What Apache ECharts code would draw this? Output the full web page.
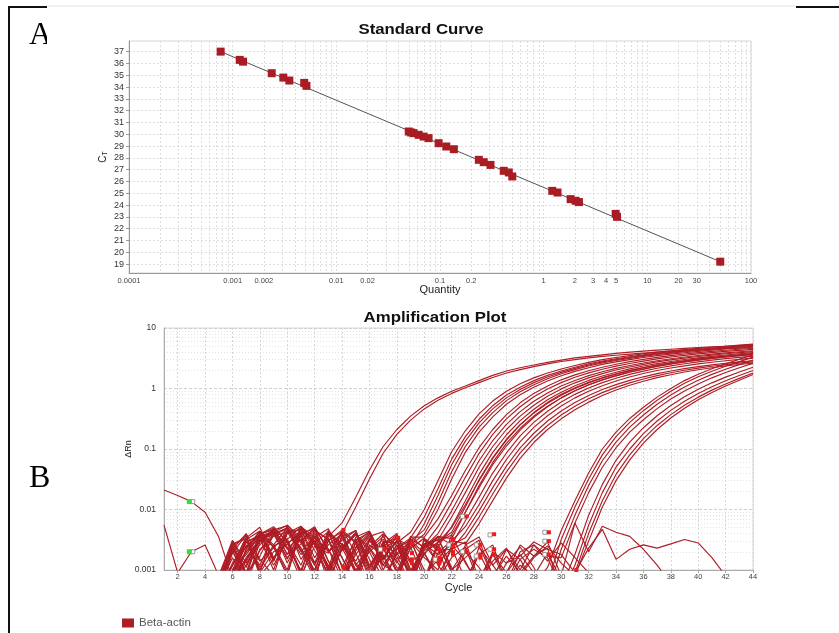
<!DOCTYPE html>
<html>
<head>
<meta charset="utf-8">
<script src="https://cdn.jsdelivr.net/npm/echarts@6/dist/echarts.min.js"></script>
<style>
  html, body { margin: 0; padding: 0; background: #fff; }
  #chart { width: 839px; height: 633px; }
</style>
</head>
<body>
<div id="chart"></div>
<script>
// ---------- A: standard curve (quantity vs CT) ----------
const stdQuantity = [0.000766, 0.00117, 0.00126, 0.00238, 0.00308, 0.00352, 0.00490, 0.00515,
  0.0499, 0.0526, 0.0556, 0.0622, 0.0695, 0.0776, 0.097, 0.115, 0.136,
  0.237, 0.264, 0.307, 0.412, 0.461, 0.498, 1.21, 1.36, 1.82, 2.03, 2.19, 4.95, 5.10, 50.5];
const stdCt = [37.0, 36.3, 36.15, 35.17, 34.8, 34.55, 34.35, 34.1,
  30.23, 30.15, 30.09, 29.95, 29.8, 29.67, 29.24, 28.96, 28.73,
  27.83, 27.63, 27.4, 26.9, 26.76, 26.42, 25.2, 25.06, 24.5, 24.36, 24.25, 23.25, 23.0, 19.2];
// regression line end points
const fitQuantity = [0.000766, 50.5];
const fitCt = [37.0, 19.2];

const quantityTickLabels = [0.0001, 0.001, 0.002, 0.01, 0.02, 0.1, 0.2, 1, 2, 3, 4, 5, 10, 20, 30, 100];
const quantityDecades = [0.0001, 0.001, 0.01, 0.1, 1, 10];
const decadeSteps = [1, 2, 3, 4, 5, 6, 7, 8, 9];
const ctTickLabels = [19, 20, 21, 22, 23, 24, 25, 26, 27, 28, 29, 30, 31, 32, 33, 34, 35, 36, 37];

// ---------- B: amplification plot (ΔRn stored in thousandths) ----------
const cycleTickLabels = [2, 4, 6, 8, 10, 12, 14, 16, 18, 20, 22, 24, 26, 28, 30, 32, 34, 36, 38, 40, 42, 44];
const rnTickLabels = [0.001, 0.01, 0.1, 1, 10];
const rnDecades = [0.001, 0.01, 0.1, 1];

// curves listed from cycle 5 to 44
const curvesEarly = [
  [0.3,0.8,2.6,1.2,3.9,5.0,2.1,0.7,3.6, 6,16,45,110,210,350,520,700,900,1100, 1350,1650,1950,2200,2450,2700,2950,3200,3400,3600, 3800,4000,4150,4300,4450,4600,4750,4900,5000,5100, 5200],
  [0.5,1.6,0.6,2.9,4.4,1.3,3.7,5.2,2.0, 4,11,32,85,175,300,460,640,830,1030, 1250,1520,1800,2050,2300,2550,2800,3000,3200,3400, 3550,3700,3850,4000,4150,4300,4400,4500,4600,4700, 4800]
];
const curvesMid1 = [
  [0.4,1.9,3.8,0.9,4.6,5.4,1.5,3.1,0.6,2.4,4.2,1.1,2.9, 2.8,4.2,10,30,90,200,380,620,900,1200, 1500,1800,2100,2400,2700,3000,3250,3500,3750,4000, 4200,4400,4600,4800,5000,5200,5400],
  [0.8,0.5,2.2,4.3,2.4,0.8,4.9,3.0,1.2,0.5,2.1,3.9,1.4, 0.7,3.4,7.5,22,68,160,310,520,780,1050, 1350,1650,1950,2250,2550,2850,3100,3350,3600,3850, 4050,4250,4450,4650,4850,5050,5200],
  [0.3,0.6,1.4,3.1,4.7,2.2,3.9,0.7,4.4,2.6,1.3,0.6,2.8, 3.3,2.4,5.8,17,55,135,270,460,700,960, 1250,1550,1850,2150,2450,2750,3000,3250,3500,3750, 3950,4150,4350,4550,4750,4950,5100],
  [0.6,2.6,0.8,3.7,1.5,4.1,5.3,2.8,1.0,3.6,0.8,2.3,1.2, 0.9,3.0,4.6,13,42,110,230,400,630,880, 1150,1450,1750,2050,2350,2650,2900,3150,3400,3650, 3850,4050,4250,4450,4650,4800,5000],
  [0.2,0.7,3.0,1.1,2.5,3.3,0.9,4.8,2.2,0.9,3.5,4.4,1.6, 1.8,2.6,3.9,10,32,88,190,340,550,790, 1050,1330,1620,1920,2200,2500,2750,3000,3250,3500, 3700,3900,4100,4300,4500,4650,4800]
];
const curvesMid2 = [
  [0.4,1.2,3.4,5.1,1.6,2.7,4.3,0.8,3.0,4.6,1.9,0.6,2.8,1.3,3.5, 3.5,7,17,44,105,210,370,580,830,1100, 1390,1680,1970,2250,2520,2780,3030,3270,3500,3720, 3920,4110,4290,4460,4620],
  [0.7,3.0,1.1,3.9,5.2,2.8,0.9,4.1,1.4,0.5,3.1,4.2,1.0,2.6,0.8, 2.6,5.2,13,34,84,175,315,500,730,980, 1250,1530,1810,2080,2340,2590,2840,3080,3310,3530, 3730,3920,4100,4270,4430],
  [0.3,0.9,2.0,3.5,4.2,5.5,3.4,1.2,0.6,2.3,4.0,1.5,0.5,2.2,3.2, 2.4,4.0,9.5,25,64,138,255,415,615,845, 1100,1360,1630,1890,2150,2400,2640,2880,3100,3310, 3510,3700,3880,4050,4210],
  [0.5,2.2,4.0,1.5,0.8,4.5,3.0,5.0,2.2,0.7,1.8,3.6,4.3,1.9,0.9, 2.7,3.1,7.5,19,50,110,210,350,530,745, 985,1240,1500,1760,2020,2270,2510,2750,2970,3180, 3380,3570,3750,3920,4080],
  [0.4,1.0,3.2,4.4,2.6,1.0,5.1,2.7,0.8,3.9,1.2,2.4,4.0,0.9,2.3, 3.3,2.4,5.2,14,38,88,172,295,455,650, 870,1110,1360,1610,1860,2110,2350,2580,2800,3010, 3210,3400,3580,3750,3910],
  [0.8,2.8,0.9,1.7,4.7,2.3,0.7,3.5,4.8,1.6,0.6,3.3,1.5,3.8,1.4, 1.9,2.9,4.2,11,31,72,145,252,395,570, 775,1000,1240,1480,1720,1960,2200,2430,2650,2860, 3060,3250,3430,3600,3760],
  [0.2,0.6,1.2,3.2,4.0,4.9,2.3,1.0,4.1,2.2,3.9,1.0,2.5,0.9,3.6, 2.3,3.6,3.3,9,25,60,124,220,350,510, 700,915,1145,1380,1620,1860,2090,2320,2540,2750, 2950,3140,3320,3490,3650]
];
const curvesMid3 = [
  [0.4,1.3,2.9,3.6,4.4,1.8,3.2,0.9,4.3,2.6,1.0,0.6,2.4,3.8,1.4,0.7, 2.9,5.0,12,30,70,140,250,400,590,800, 1030,1270,1510,1750,1990,2220,2450,2670,2880,3080, 3270,3450,3620,3780],
  [0.6,2.4,0.8,2.1,3.8,4.8,2.0,3.7,1.1,2.1,3.9,2.3,0.9,0.7,3.0,1.6, 1.0,3.8,9.0,23,55,112,205,335,500,700, 920,1150,1390,1630,1870,2100,2330,2550,2760,2960, 3150,3330,3500,3660],
  [0.3,0.8,3.4,1.4,2.3,4.1,4.7,1.3,2.6,4.0,0.9,3.1,2.2,1.0,0.6,2.7, 1.8,2.6,6.5,16,40,86,165,275,420,600, 800,1020,1250,1480,1710,1940,2160,2370,2570,2760, 2940,3110,3270,3420],
  [0.5,2.0,0.9,4.2,1.6,3.0,1.2,4.5,3.2,0.8,2.4,4.1,1.2,2.3,3.4,0.8, 1.5,3.0,5.2,12,30,67,132,228,355,515, 700,900,1110,1330,1550,1770,1980,2180,2370,2550, 2720,2880,3030,3170],
  [0.8,3.1,1.3,2.6,4.9,3.0,0.8,2.5,1.9,4.3,2.8,0.7,3.0,1.1,0.8,3.1, 2.1,2.2,4.2,9.5,23,52,104,182,290,425, 585,765,960,1160,1360,1560,1760,1950,2130,2300, 2460,2610,2750,2880],
  [0.4,1.0,1.8,3.8,2.4,0.9,4.2,3.5,1.0,2.7,1.4,3.3,1.6,3.1,0.9,1.8, 3.6,2.6,3.4,7.5,18,42,86,152,245,365, 510,675,855,1045,1240,1435,1630,1820,2000,2170, 2330,2480,2620,2750],
  [0.5,2.5,3.7,0.8,1.5,4.6,2.8,1.2,3.9,1.6,0.6,2.2,3.6,1.5,2.4,0.7, 1.9,3.1,2.7,5.8,14,33,70,128,210,315, 445,595,765,945,1130,1320,1510,1690,1870,2040, 2200,2350,2490,2620]
];
const curvesLate = [
  [0.3,0.9,2.9,3.8,1.4,4.5,2.3,0.8,3.1,4.3,1.2,0.6,2.1,3.4,1.0,2.2,3.3,1.1,0.5,1.9,0.7,2.2, 1.5,0.6,1.1,4.5,14,40,100,190,320,490,720,1000,1350,1720,2120,2550,3050,3600],
  [0.7,2.3,0.9,3.2,4.2,1.5,4.7,2.6,0.8,2.4,3.9,2.0,0.7,1.9,3.0,1.0,0.6,2.6,1.4,0.5,1.8,0.9, 1.8,0.9,0.6,3.2,11,32,80,160,275,430,640,900,1220,1560,1930,2330,2780,3300],
  [0.4,1.2,3.5,1.0,2.6,5.0,3.0,1.3,4.5,2.3,0.9,3.0,1.8,0.7,2.3,3.4,1.2,0.6,2.0,1.1,0.5,1.3, 2.4,1.1,0.4,2.2,8,25,64,130,230,365,550,780,1060,1370,1710,2080,2480,2950],
  [0.5,0.7,2.0,4.0,4.6,2.4,1.0,3.6,2.0,3.1,4.5,1.1,2.6,1.4,0.6,2.1,2.7,0.9,0.5,2.4,1.2,0.6, 2.0,2.6,1.7,1.6,6,19,50,105,190,305,465,670,910,1190,1500,1840,2200,2600],
  [0.2,0.6,1.6,3.3,1.2,3.2,5.2,2.1,0.9,2.8,1.0,2.0,3.2,1.7,0.6,1.9,0.8,2.2,2.9,0.7,1.9,0.6, 1.5,2.2,1.6,0.5,1.8,8,26,65,130,225,355,525,730,970,1240,1540,1870,2250],
  [0.5,2.1,0.6,2.2,3.6,4.3,1.8,2.8,4.3,1.1,3.3,0.9,1.6,2.9,1.3,0.6,2.5,1.0,1.6,2.5,0.8,1.7, 0.9,1.7,2.3,0.4,1.2,5.5,19,50,100,180,290,435,615,830,1070,1340,1640,1980],
  [0.6,2.7,3.3,0.9,2.0,2.7,4.1,4.8,1.4,0.7,2.3,3.6,1.2,2.6,0.8,2.7,1.3,2.3,0.7,1.8,2.6,0.6, 1.2,0.8,1.9,0.7,0.9,4,14,38,80,148,245,370,530,720,940,1190,1470,1800],
  [0.3,0.8,1.5,3.1,3.9,1.6,2.7,4.6,3.2,1.2,0.8,2.6,1.7,0.6,3.1,1.9,0.7,1.6,2.4,0.6,1.4,2.3, 0.8,1.6,2.5,1.3,0.8,3.0,11,30,66,125,210,325,470,650,860,1100,1370,1700]
];
// wells without amplification, listed from cycle 1 to 44
const curvesFlat = [
  [21,17,13.5,9,3.5, 0.7,1.5,3.3,1.0,4.0,4.8,1.6,3.4,0.8,2.8,4.3,1.5,3.1,0.7,2.4,3.6,1.0,2.2,3.1,0.8, 0.9,2.6,1.7,2.9,0.8,6.0,2.0,5.3,4.2,3.6,2.2,1.2,0.6,0.4,0.4,0.3,0.3,0.3,0.3],
  [5.5,0.9,2.0,2.6,0.8, 0.5,2.3,4.4,1.4,5.5,3.0,4.9,0.9,3.5,4.5,1.2,2.7,4.0,1.0,0.6,2.9,3.8,1.3,0.6,2.0, 1.3,1.7,2.9,2.2,1.8,0.9,2.3,4.7,1.5,2.2,2.6,2.3,2.7,3.2,2.8,1.6,0.8,0.6,0.5],
  [0.3,0.3,0.4,0.5,0.6, 1.2,2.4,3.8,4.9,1.8,5.2,3.5,1.1,4.6,2.9,0.8,3.9,2.5,0.7,3.3,2.2,0.6,2.6,3.5,1.2, 2.2,1.0,2.6,1.4,2.8,1.6,0.9,0.7,0.6,0.5,0.5,0.4,0.4,0.4,0.4,0.4,0.4,0.4,0.4]
];
const ampFirstCycle = 5;
const flatFirstCycle = 1;

// threshold-cycle markers (red), their outlined partners (grey) and baseline-start markers (green)
const ctMarkCycle = [14.1, 14.1, 17.1, 18.1, 19.1, 19.1, 19.1, 19.1, 21.1, 21.1, 21.1, 21.1, 22.1, 22.1, 22.1, 22.1, 23.1, 23.1, 24.1, 24.1, 24.1, 25.1, 25.1, 25.1, 29.1, 29.1, 29.1, 31.1];
const ctMarkRn = [4.6, 1.1, 2.2, 3.4, 2.8, 1.9, 1.5, 1.3, 2.2, 1.6, 1.4, 1.3, 3.2, 2.5, 2.0, 1.8, 7.7, 2.0, 2.6, 1.8, 1.6, 3.9, 2.2, 1.8, 4.2, 3.0, 1.8, 1.0];
const baseMarkCycle = [16.8, 20.8, 21.8, 22.8, 22.8, 23.8, 23.8, 24.8, 24.8, 28.8, 28.8, 28.8, 3.1, 3.1];
const baseMarkRn = [2.2, 1.5, 2.6, 7.7, 2.0, 2.6, 1.7, 3.8, 2.2, 4.2, 3.0, 1.8, 13.5, 2.0];
const startMarkCycle = [2.85, 2.85];
const startMarkRn = [13.5, 2.0];

// ---------- helpers ----------
const log10 = Math.log10;
const fromLog = v => String(Number(Math.pow(10, v).toPrecision(6)));
const quantityGrid = quantityDecades.flatMap(d => decadeSteps.map(k => log10(k * d))).concat([log10(100)]);
const rnMinorGrid = rnDecades.flatMap(d => decadeSteps.slice(1).map(k => log10(k * d)));
const milliToLog = v => log10(v / 1000);

const curveColor = '#AE1C25';
const font = '"Liberation Sans", Arial, sans-serif';

function ampSeries(values, first) {
  return {
    type: 'line', name: 'Beta-actin', xAxisIndex: 1, yAxisIndex: 1,
    data: values.map((v, i) => [first + i, milliToLog(v)]),
    symbol: 'none', silent: true, clip: true, z: 2,
    lineStyle: { color: curveColor, width: 1.15 },
    itemStyle: { color: curveColor }
  };
}

const series = [];
series.push({
  type: 'line', name: 'fit', xAxisIndex: 0, yAxisIndex: 0,
  data: fitQuantity.map((q, i) => [log10(q), fitCt[i]]),
  symbol: 'none', silent: true, z: 2,
  lineStyle: { color: '#555', width: 1 }
});
series.push({
  type: 'scatter', name: 'standards', xAxisIndex: 0, yAxisIndex: 0,
  data: stdQuantity.map((q, i) => [log10(q), stdCt[i]]),
  symbol: 'rect', symbolSize: 8, z: 3, silent: true,
  itemStyle: { color: '#A91C23', opacity: 1 }
});
[curvesEarly, curvesMid1, curvesMid2, curvesMid3, curvesLate].forEach(group =>
  group.forEach(c => series.push(ampSeries(c, ampFirstCycle))));
curvesFlat.forEach(c => series.push(ampSeries(c, flatFirstCycle)));
series.push({
  type: 'scatter', name: 'base marks', xAxisIndex: 1, yAxisIndex: 1,
  data: baseMarkCycle.map((c, i) => [c, milliToLog(baseMarkRn[i])]),
  symbol: 'rect', symbolSize: 4, z: 4, silent: true,
  itemStyle: { color: '#fff', borderColor: '#999', borderWidth: 1, opacity: 1 }
});
series.push({
  type: 'scatter', name: 'ct marks', xAxisIndex: 1, yAxisIndex: 1,
  data: ctMarkCycle.map((c, i) => [c, milliToLog(ctMarkRn[i])]),
  symbol: 'rect', symbolSize: 4, z: 5, silent: true,
  itemStyle: { color: '#F01A1A', opacity: 1 }
});
series.push({
  type: 'scatter', name: 'start marks', xAxisIndex: 1, yAxisIndex: 1,
  data: startMarkCycle.map((c, i) => [c, milliToLog(startMarkRn[i])]),
  symbol: 'rect', symbolSize: 5, z: 5, silent: true,
  itemStyle: { color: '#3ED63E', opacity: 1 }
});

const chart = echarts.init(document.getElementById('chart'), null, { renderer: 'canvas' });
chart.setOption({
  animation: false,
  backgroundColor: '#fff',
  textStyle: { fontFamily: font },
  grid: [
    { left: 129, top: 41, width: 622, height: 232, show: true, borderColor: '#d4d4d4', borderWidth: 1, backgroundColor: '#fff', outerBoundsMode: 'none' },
    { left: 164, top: 328, width: 589, height: 242, show: true, borderColor: '#d4d4d4', borderWidth: 1, backgroundColor: '#fff', outerBoundsMode: 'none' }
  ],
  xAxis: [
    {
      type: 'value', gridIndex: 0, min: -4, max: 2,
      name: 'Quantity', nameLocation: 'middle', nameGap: 11, nameMoveOverlap: false,
      nameTextStyle: { fontSize: 11, color: '#222' },
      axisLine: { show: true, onZero: false, lineStyle: { color: '#999' } },
      axisTick: { show: false, customValues: quantityGrid },
      axisLabel: { customValues: quantityTickLabels.map(log10), formatter: fromLog, fontSize: 7.5, color: '#444', margin: 4 },
      splitLine: { show: true, lineStyle: { color: '#dedede', type: [2, 2], width: 1 } }
    },
    {
      type: 'value', gridIndex: 1, min: 1, max: 44,
      name: 'Cycle', nameLocation: 'middle', nameGap: 12, nameMoveOverlap: false,
      nameTextStyle: { fontSize: 11, color: '#222' },
      axisLine: { show: true, onZero: false, lineStyle: { color: '#aaa' } },
      axisTick: { show: true, customValues: cycleTickLabels, length: 3, lineStyle: { color: '#aaa' } },
      axisLabel: { customValues: cycleTickLabels, fontSize: 7.5, color: '#444', margin: 3 },
      splitLine: { show: true, lineStyle: { color: '#d6d6d6', type: [2, 2], width: 1 } }
    }
  ],
  yAxis: [
    {
      type: 'value', gridIndex: 0, min: 18.24, max: 37.9,
      name: '{c|C}{t|T}', nameLocation: 'middle', nameGap: 20, nameRotate: 90, nameMoveOverlap: false,
      nameTextStyle: { color: '#222', rich: { c: { fontSize: 10, color: '#222' }, t: { fontSize: 7, color: '#222', padding: [4, 0, 0, 0] } } },
      axisLine: { show: true, onZero: false, lineStyle: { color: '#999' } },
      axisTick: { show: true, customValues: ctTickLabels, length: 3, lineStyle: { color: '#999' } },
      axisLabel: { customValues: ctTickLabels, fontSize: 9, color: '#333', margin: 5 },
      splitLine: { show: true, lineStyle: { color: '#dedede', type: [2, 2], width: 1 } }
    },
    {
      type: 'value', gridIndex: 1, min: -3, max: 1,
      name: 'ΔRn', nameLocation: 'middle', nameGap: 31, nameRotate: 90, nameMoveOverlap: false,
      nameTextStyle: { fontSize: 9, color: '#222' },
      axisLine: { show: true, onZero: false, lineStyle: { color: '#aaa' } },
      axisTick: { show: false, customValues: rnTickLabels.map(log10) },
      axisLabel: { customValues: rnTickLabels.map(log10), formatter: fromLog, fontSize: 8.5, color: '#333', margin: 8 },
      splitLine: { show: true, lineStyle: { color: '#d0d0d0', type: [3, 2], width: 1 } }
    },
    {
      type: 'value', gridIndex: 1, min: -3, max: 1, position: 'right',
      axisLine: { show: false }, axisLabel: { show: false },
      axisTick: { show: false, customValues: rnMinorGrid },
      splitLine: { show: true, lineStyle: { color: '#e2e2e2', type: [1, 2], width: 1 } }
    }
  ],
  legend: {
    data: ['Beta-actin'], left: 117, top: 612, selectedMode: false,
    icon: 'rect', itemWidth: 12, itemHeight: 9, itemGap: 4,
    textStyle: { fontSize: 11.5, color: '#555', fontFamily: font }
  },
  graphic: [
    { type: 'line', shape: { x1: 9, y1: 6, x2: 9, y2: 633 }, style: { stroke: '#111', lineWidth: 2 }, silent: true },
    { type: 'line', shape: { x1: 8, y1: 7, x2: 47, y2: 7 }, style: { stroke: '#111', lineWidth: 2 }, silent: true },
    { type: 'line', shape: { x1: 47, y1: 6, x2: 796, y2: 6 }, style: { stroke: '#e0e0e0', lineWidth: 1 }, silent: true },
    { type: 'line', shape: { x1: 796, y1: 7, x2: 839, y2: 7 }, style: { stroke: '#111', lineWidth: 2 }, silent: true },
    { type: 'text', x: 29, y: 36, silent: true, style: { text: 'A', font: '32px "Liberation Serif", serif', fill: '#000', verticalAlign: 'middle', align: 'left' } },
    { type: 'rect', shape: { x: 47, y: 12, width: 14, height: 42 }, style: { fill: '#fff' }, silent: true, z: 10 },
    { type: 'text', x: 29, y: 479, silent: true, style: { text: 'B', font: '32px "Liberation Serif", serif', fill: '#000', verticalAlign: 'middle', align: 'left' } },
    { type: 'text', x: 421, y: 30.5, scaleX: 1.2, silent: true, style: { text: 'Standard Curve', font: 'bold 14px "Liberation Sans", Arial, sans-serif', fill: '#111', align: 'center', verticalAlign: 'middle' } },
    { type: 'text', x: 435, y: 318, scaleX: 1.2, silent: true, style: { text: 'Amplification Plot', font: 'bold 14px "Liberation Sans", Arial, sans-serif', fill: '#111', align: 'center', verticalAlign: 'middle' } }
  ],
  series: series
});
</script>
</body>
</html>
